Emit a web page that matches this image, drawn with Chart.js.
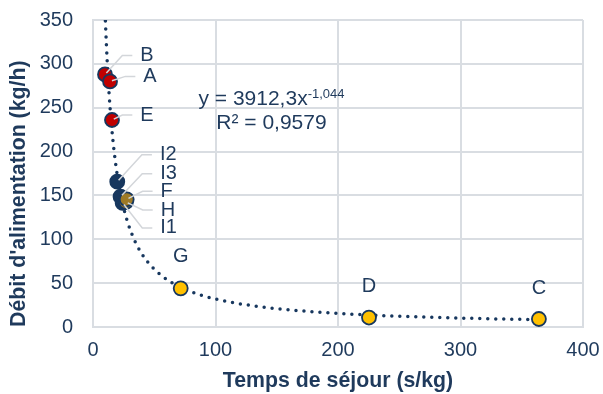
<!DOCTYPE html>
<html>
<head>
<meta charset="utf-8">
<script src="https://cdn.jsdelivr.net/npm/chart.js@4/dist/chart.umd.min.js"></script>
<style>
  html, body { margin: 0; padding: 0; background: #fff; }
</style>
</head>
<body>
<canvas id="chart" width="603" height="394"></canvas>
<script>
// points, grouped by marker colour
const redNames = ['B', 'A', 'E'];
const redX = [9.8, 13.9, 15.5];
const redY = [288, 280, 236];

const darkNames = ['I2', 'I1', 'I3'];
const darkX = [19.8, 24.2, 22.5];
const darkY = [165.7, 141.4, 148.6];

const brownNames = ['H', 'F'];
const brownX = [26.9, 27.5];
const brownY = [142.5, 145.6];

const yellowNames = ['G', 'D', 'C'];
const yellowX = [71.6, 225.3, 364];
const yellowY = [44.1, 10.8, 9.1];

// power trendline as drawn (y = 3912,3x^-1,044)
const trendX = [9, 10, 11, 12, 13, 14, 15.5, 17, 19, 21, 23, 25, 28, 32, 36, 40, 45, 50, 57, 65, 75, 87, 100, 115, 130, 150, 170, 195, 220, 250, 280, 320, 364];
const trendY = [394.7, 353.6, 320.0, 292.2, 268.8, 248.8, 223.8, 203.2, 180.9, 162.9, 148.2, 135.8, 120.7, 105.0, 92.8, 83.1, 73.5, 65.9, 57.4, 50.1, 43.1, 36.9, 31.9, 27.6, 24.3, 20.9, 18.4, 15.9, 14.0, 12.3, 10.9, 9.5, 8.3];

const xTicks = [0, 100, 200, 300, 400];
const yTicks = [0, 50, 100, 150, 200, 250, 300, 350];

const equationText = 'y = 3912,3x';
const equationExp = '-1,044';
const r2Text = 'R² = 0,9579';

// label offsets from the point centre in px, and whether a leader line is drawn
const labelOffsets = {
  B: [42, -19, true], A: [40, -5, true], E: [35, -5, true],
  I2: [51, -27, true], I3: [48, -23, true], F: [40, -8, true], H: [42, 8, true], I1: [46, 25, true],
  G: [0, -32, false], D: [0, -31, false], C: [0, -31, false]
};

const navy = '#17375e';
const textColor = '#1f3a5c';
const gridColor = '#d9dde2';
const font = '"Liberation Sans", Arial, sans-serif';

const zip = (xs, ys) => xs.map((x, i) => ({ x: x, y: ys[i] }));

function pointSet(names, xs, ys, fill) {
  return {
    names: names,
    data: zip(xs, ys),
    backgroundColor: fill,
    borderColor: navy,
    borderWidth: 1.8,
    pointRadius: 7,
    showLine: false
  };
}

function noOverhang(s) {
  s.paddingTop = 0; s.paddingBottom = 0; s.paddingLeft = 0; s.paddingRight = 0;
}

const labelPlugin = {
  id: 'pointLabels',
  afterDatasetsDraw(chart) {
    const ctx = chart.ctx;
    ctx.save();
    ctx.font = '20px ' + font;
    ctx.textAlign = 'center';
    ctx.textBaseline = 'middle';
    const items = [];
    chart.data.datasets.forEach((ds, i) => {
      if (!ds.names) return;
      chart.getDatasetMeta(i).data.forEach((pt, j) => {
        items.push({ name: ds.names[j], x: pt.x, y: pt.y });
      });
    });
    // leader lines
    ctx.strokeStyle = '#d3d6da';
    ctx.lineWidth = 1.5;
    items.forEach(it => {
      const off = labelOffsets[it.name];
      if (!off[2]) return;
      const lx = it.x + off[0], ly = it.y + off[1];
      const w = ctx.measureText(it.name).width;
      const x1 = lx - w / 2 - 8;
      const x2 = x1 - 10;
      const dx = x2 - it.x, dy = ly - it.y;
      const d = Math.hypot(dx, dy);
      ctx.beginPath();
      ctx.moveTo(x1, ly);
      ctx.lineTo(x2, ly);
      ctx.lineTo(it.x + dx / d * 2, it.y + dy / d * 2);
      ctx.stroke();
    });
    ctx.fillStyle = textColor;
    items.forEach(it => {
      const off = labelOffsets[it.name];
      ctx.fillText(it.name, it.x + off[0], it.y + off[1]);
    });

    // trendline equation
    const cx = chart.scales.x.getPixelForValue(145.7);
    const y1 = chart.scales.y.getPixelForValue(253);
    const y2 = chart.scales.y.getPixelForValue(225.8);
    ctx.textAlign = 'left';
    ctx.textBaseline = 'alphabetic';
    ctx.font = '21px ' + font;
    const wMain = ctx.measureText(equationText).width;
    ctx.font = '13px ' + font;
    const wExp = ctx.measureText(equationExp).width;
    const start = cx - (wMain + wExp) / 2;
    ctx.font = '21px ' + font;
    ctx.fillText(equationText, start, y1);
    ctx.font = '13px ' + font;
    ctx.fillText(equationExp, start + wMain, y1 - 7);
    ctx.font = '21px ' + font;
    ctx.textAlign = 'center';
    ctx.fillText(r2Text, cx, y2);
    ctx.restore();
  }
};

new Chart(document.getElementById('chart'), {
  type: 'scatter',
  data: {
    datasets: [
      pointSet(yellowNames, yellowX, yellowY, '#ffc000'),
      pointSet(brownNames, brownX, brownY, '#9e7a26'),
      pointSet(redNames, redX, redY, '#c00000'),
      pointSet(darkNames, darkX, darkY, navy),
      {
        data: zip(trendX, trendY),
        showLine: true,
        pointRadius: 0,
        borderColor: navy,
        borderWidth: 3.5,
        borderDash: [0, 8],
        borderCapStyle: 'round',
        cubicInterpolationMode: 'monotone',
        fill: false
      }
    ]
  },
  options: {
    responsive: false,
    devicePixelRatio: 1,
    animation: false,
    layout: { padding: { top: 20, right: 20, left: 0, bottom: 0 } },
    plugins: { legend: { display: false }, tooltip: { enabled: false } },
    scales: {
      x: {
        type: 'linear',
        min: 0, max: 400,
        afterFit: s => { s.height = 67; noOverhang(s); },
        afterBuildTicks: s => { s.ticks = xTicks.map(v => ({ value: v })); },
        grid: { color: gridColor, lineWidth: 2, drawTicks: false },
        border: { color: gridColor, width: 2 },
        ticks: { color: textColor, font: { family: font, size: 20 }, padding: 11 },
        title: {
          display: true, text: 'Temps de séjour (s/kg)', color: textColor,
          font: { family: font, size: 21.3, weight: 'bold' }, padding: { top: 0, bottom: 0 }
        }
      },
      y: {
        type: 'linear',
        min: 0, max: 350,
        afterFit: s => { s.width = 93; noOverhang(s); },
        afterBuildTicks: s => { s.ticks = yTicks.map(v => ({ value: v })); },
        grid: { color: gridColor, lineWidth: 2, drawTicks: false },
        border: { color: gridColor, width: 2 },
        ticks: { color: textColor, font: { family: font, size: 20 }, padding: 20 },
        title: {
          display: true, text: "Débit d'alimentation (kg/h)", color: textColor, align: 'start',
          font: { family: font, size: 21.3, weight: 'bold' }, padding: { top: 6, bottom: 0 }
        }
      }
    }
  },
  plugins: [labelPlugin]
});
</script>
</body>
</html>
